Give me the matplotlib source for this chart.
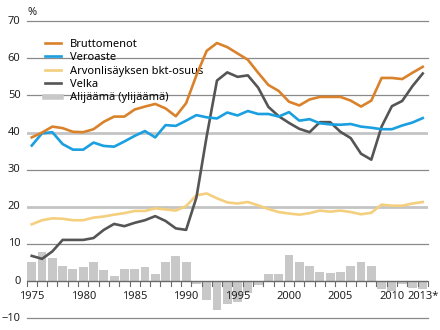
import matplotlib
matplotlib.use("Agg")
import matplotlib.pyplot as plt
import numpy as np
from matplotlib.lines import Line2D

plt.rcParams['font.family'] = ['Noto Sans', 'DejaVu Sans']

years = list(range(1975, 2014))

bruttomenot = [38.7, 40.0, 41.6, 41.2, 40.2, 40.1, 40.9, 42.9, 44.3, 44.3,
               46.2, 47.0, 47.7, 46.5, 44.4, 47.9, 55.4, 62.0, 64.1, 63.0,
               61.3, 59.6, 56.1, 52.8, 51.2, 48.3, 47.3, 48.9, 49.6, 49.6,
               49.6, 48.6, 47.0, 48.6, 54.7, 54.7, 54.4, 56.1, 57.7]
veroaste = [36.5, 39.8, 40.1, 36.9, 35.4, 35.4, 37.3, 36.4, 36.2, 37.6,
            39.1, 40.4, 38.7, 42.0, 41.8, 43.2, 44.7, 44.1, 43.8, 45.4,
            44.6, 45.8, 45.0, 45.0, 44.3, 45.5, 43.2, 43.6, 42.5, 42.2,
            42.1, 42.3, 41.6, 41.3, 40.9, 40.9, 41.9, 42.7, 43.9]
arvonlisays = [15.3, 16.4, 16.9, 16.8, 16.4, 16.4, 17.1, 17.4, 17.9, 18.3,
               18.9, 18.9, 19.6, 19.3, 19.0, 20.2, 23.1, 23.6, 22.3, 21.2,
               20.9, 21.3, 20.4, 19.4, 18.6, 18.2, 17.9, 18.3, 19.0, 18.7,
               19.0, 18.6, 18.0, 18.4, 20.6, 20.3, 20.3, 20.9, 21.3]
velka = [6.8, 6.0, 8.0, 11.1, 11.1, 11.1, 11.6, 13.8, 15.4, 14.8,
         15.7, 16.4, 17.5, 16.2, 14.2, 13.8, 22.5, 39.0, 54.0, 56.2,
         55.0, 55.4, 52.1, 46.9, 44.4, 42.6, 41.0, 40.1, 42.8, 42.8,
         40.2, 38.5, 34.3, 32.7, 41.6, 47.1, 48.5, 52.5, 55.9]
alijaama = [5.2, 7.8, 6.3, 4.2, 3.4, 3.7, 5.2, 3.0, 1.5, 3.4,
            3.4, 3.7, 1.9, 5.2, 6.8, 5.2, -0.8, -5.1, -7.8, -6.2,
            -5.6, -3.1, -1.1, 1.8, 1.8, 7.0, 5.2, 4.1, 2.5, 2.1,
            2.5, 4.1, 5.2, 4.1, -2.1, -2.7, -0.8, -1.8, -2.1]

xlabels = ["1975", "1980", "1985", "1990", "1995", "2000", "2005", "2010", "2013*"]
xlabel_pos = [1975, 1980, 1985, 1990, 1995, 2000, 2005, 2010, 2013]
yticks = [70, 60, 50, 40, 30, 20, 10, 0, -10]

fig = plt.figure(figsize=(4.4, 3.3), dpi=100)
ax = fig.add_axes([0.0605, 0.0355, 0.912, 0.9005])
ax.set_xlim(1974.5, 2013.5)
ax.set_ylim(-10, 70)

# gridlines: 40 and 20 lighter and thicker
for v in [70, 60, 50, 30, 10, -10]:
    ax.axhline(v, color='#8a8a8a', lw=0.9, zorder=0, clip_on=False)
for v in [40, 20]:
    ax.axhline(v, color='#c4c4c4', lw=2.0, zorder=0)

ax.bar(years, alijaama, width=0.86, color='#c8c8c8', zorder=1)
ax.axhline(0, color='#6a6a6a', lw=1.0, zorder=2)

c_orange = '#d9822b'
c_blue = '#1a9fe0'
c_yellow = '#f4cf7e'
c_dark = '#555555'
lw = 1.9
ax.plot(years, arvonlisays, color=c_yellow, lw=lw, zorder=3)
ax.plot(years, velka, color=c_dark, lw=lw, zorder=4)
ax.plot(years, veroaste, color=c_blue, lw=lw, zorder=5)
ax.plot(years, bruttomenot, color=c_orange, lw=lw, zorder=6)

for s in ax.spines.values():
    s.set_visible(False)
ax.set_xticks([])
ax.set_yticks([])

# year boundary ticks below the zero line
for b in np.arange(1974.5, 2014.0, 1.0):
    ax.plot([b, b], [0, -1.2], color='#6a6a6a', lw=0.8, zorder=2, clip_on=False)

for x, lab in zip(xlabel_pos, xlabels):
    ax.text(x, -2.6, lab, ha='center', va='top', fontsize=8, color='#222222', zorder=7)

for v in yticks:
    lab = str(v) if v >= 0 else '\u2212' + str(-v)
    ax.text(1973.9, v, lab, ha='right', va='center', fontsize=8, color='#222222')
ax.text(1974.6, 72.4, '%', ha='left', va='center', fontsize=8, color='#222222')

handles = [Line2D([], [], color=c_orange, lw=lw),
           Line2D([], [], color=c_blue, lw=lw),
           Line2D([], [], color=c_yellow, lw=lw),
           Line2D([], [], color=c_dark, lw=lw),
           Line2D([], [], color='#c8c8c8', lw=4)]
names = ['Bruttomenot', 'Veroaste', 'Arvonlisäyksen bkt-osuus', 'Velka', 'Alijäämä (ylijäämä)']
leg = ax.legend(handles, names, loc='upper left', bbox_to_anchor=(0.035, 0.956),
                frameon=False, fontsize=8, handlelength=1.45, handletextpad=0.75,
                labelspacing=0.22, borderaxespad=0)

fig.savefig('out.png', dpi=100)
